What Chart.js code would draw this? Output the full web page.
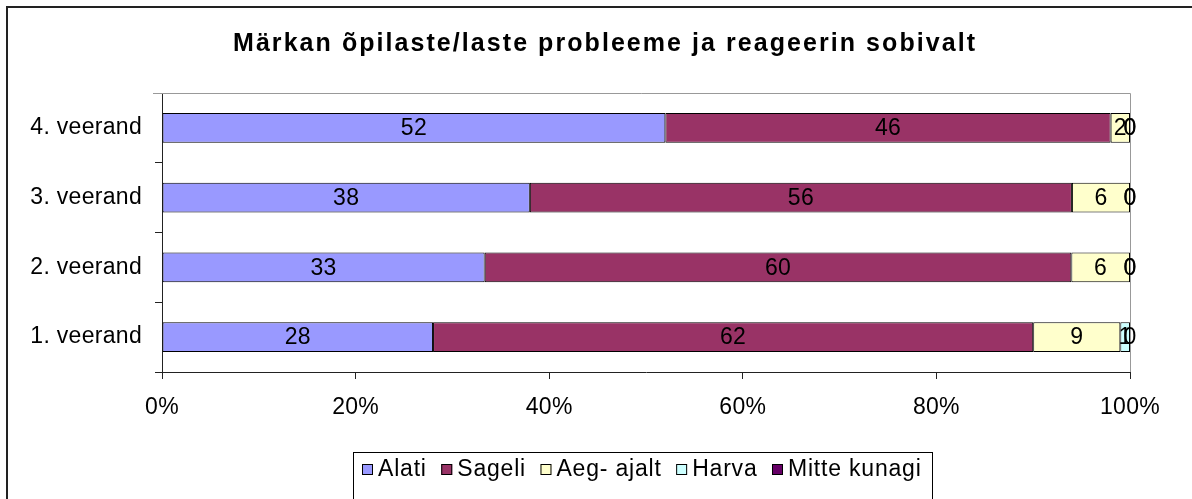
<!DOCTYPE html>
<html>
<head>
<meta charset="utf-8">
<script src="https://cdn.jsdelivr.net/npm/chart.js@4.4.1/dist/chart.umd.min.js"></script>
<style>
  html, body { margin: 0; padding: 0; background: #fff; }
  #wrap { width: 1192px; height: 499px; }
</style>
</head>
<body>
<div id="wrap"><canvas id="chart" width="1192" height="499"></canvas></div>
<script>
// chart data
const titleText = 'Märkan õpilaste/laste probleeme ja reageerin sobivalt';
const categories = ['4. veerand', '3. veerand', '2. veerand', '1. veerand'];
const seriesNames = ['Alati', 'Sageli', 'Aeg- ajalt', 'Harva', 'Mitte kunagi'];
const alati = [52, 38, 33, 28];
const sageli = [46, 56, 60, 62];
const aegAjalt = [2, 6, 6, 9];
const harva = [0, 0, 0, 1];
const mitteKunagi = [0, 0, 0, 0];
const xTicks = [0, 20, 40, 60, 80, 100];

const seriesValues = [alati, sageli, aegAjalt, harva, mitteKunagi];
const seriesColors = ['#9999FF', '#993366', '#FFFFCC', '#CCFFFF', '#660066'];
const FONT = "'Liberation Sans', Arial, sans-serif";

// row totals for 100% stacking
const totals = categories.map((c, i) => seriesValues.reduce((s, arr) => s + arr[i], 0));

const datasets = seriesNames.map((name, k) => ({
    label: name,
    raw: seriesValues[k],
    data: seriesValues[k].map((v, i) => v / totals[i] * 100),
    backgroundColor: seriesColors[k],
    borderColor: '#000',
    borderWidth: 1,
    borderSkipped: false,
    barPercentage: 0.43,
    categoryPercentage: 1
}));

// the old Excel rendering has slightly wider text
const spacingPlugin = {
    id: 'spacing',
    beforeDraw(chart) { chart.ctx.letterSpacing = '0.3px'; }
};

// frame, title, top/right plot border, value labels, legend
const decorPlugin = {
    id: 'decor',
    afterDatasetsDraw(chart) {
        const ctx = chart.ctx;
        const area = chart.chartArea;
        ctx.save();

        // plot area border (top + right grey)
        ctx.strokeStyle = '#999';
        ctx.lineWidth = 1;
        ctx.beginPath();
        ctx.moveTo(153, Math.round(area.top) + 0.5);
        ctx.lineTo(Math.round(area.right) + 0.5, Math.round(area.top) + 0.5);
        ctx.lineTo(Math.round(area.right) + 0.5, Math.round(area.bottom));
        ctx.stroke();

        // value labels
        ctx.letterSpacing = '0.3px';
        ctx.fillStyle = '#000';
        ctx.font = '23px ' + FONT;
        ctx.textAlign = 'center';
        ctx.textBaseline = 'middle';
        chart.data.datasets.forEach((ds, k) => {
            const meta = chart.getDatasetMeta(k);
            meta.data.forEach((bar, i) => {
                const x = (bar.x + bar.base) / 2;
                ctx.fillText(String(ds.raw[i]), x, bar.y + 1);
            });
        });

        // outer frame
        ctx.strokeStyle = '#222';
        ctx.lineWidth = 2;
        ctx.strokeRect(7, 7, 1300, 600);

        // title
        ctx.letterSpacing = '0px';
        ctx.font = 'bold 25px ' + FONT;
        ctx.textAlign = 'left';
        const natural = ctx.measureText(titleText).width;
        const targetW = 742;
        ctx.letterSpacing = Math.max(0, (targetW - natural) / (titleText.length - 1)) + 'px';
        ctx.fillText(titleText, 233, 44);

        // legend
        ctx.letterSpacing = '0.8px';
        ctx.font = '23px ' + FONT;
        let x = 362;
        const yMid = 469;
        seriesNames.forEach((name, k) => {
            ctx.fillStyle = seriesColors[k];
            ctx.fillRect(x, yMid - 5, 11, 11);
            ctx.strokeStyle = '#000';
            ctx.lineWidth = 1;
            ctx.strokeRect(x + 0.5, yMid - 5 + 0.5, 10, 10);
            ctx.fillStyle = '#000';
            ctx.fillText(name, x + 16, yMid + 1);
            x += 16 + ctx.measureText(name).width + 14.5;
        });
        ctx.strokeStyle = '#000';
        ctx.lineWidth = 1;
        ctx.strokeRect(353.5, 452.5, 932 - 353, 60);

        ctx.restore();
    }
};

new Chart(document.getElementById('chart'), {
    type: 'bar',
    data: { labels: categories, datasets: datasets },
    options: {
        indexAxis: 'y',
        responsive: false,
        animation: false,
        layout: { padding: { top: 93, right: 62, left: 0, bottom: 0 } },
        plugins: {
            legend: { display: false },
            title: { display: false },
            tooltip: { enabled: false }
        },
        scales: {
            x: {
                stacked: true,
                min: 0,
                max: 100,
                afterFit(scale) { scale.height = 127; },
                afterBuildTicks(scale) { scale.ticks = xTicks.map(v => ({ value: v })); },
                border: { color: '#222', width: 1 },
                grid: { drawOnChartArea: false, drawTicks: true, tickLength: 7, color: '#222' },
                ticks: {
                    padding: 15,
                    color: '#000',
                    font: { family: FONT, size: 23 },
                    callback: v => v + '%'
                }
            },
            y: {
                stacked: true,
                afterFit(scale) { scale.width = 162; },
                border: { color: '#222', width: 1 },
                grid: { drawOnChartArea: false, drawTicks: true, tickLength: 7, color: '#222', offset: true },
                ticks: {
                    padding: 13,
                    color: '#000',
                    font: { family: FONT, size: 23 }
                }
            }
        }
    },
    plugins: [spacingPlugin, decorPlugin]
});
</script>
</body>
</html>
